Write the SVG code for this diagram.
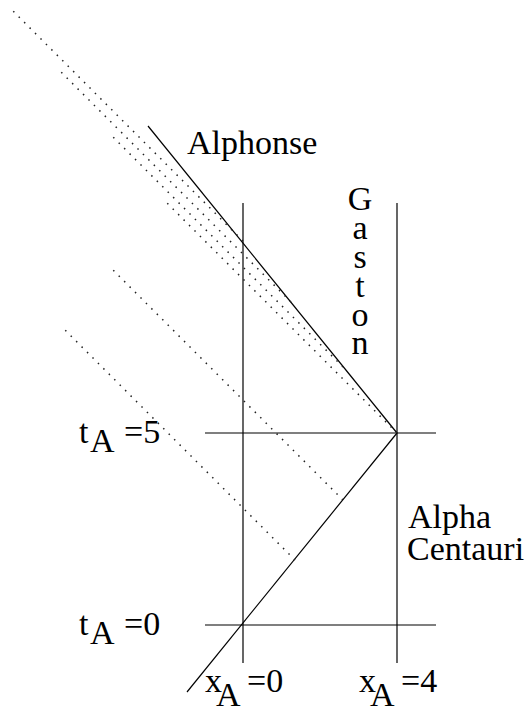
<svg xmlns="http://www.w3.org/2000/svg" width="525" height="713" viewBox="0 0 525 713">
<style>
.s{stroke:#000;stroke-width:1.2;fill:none}
.d{stroke:#222;stroke-width:1.5;fill:none;stroke-dasharray:1.5 6.2}
.t{font-family:'Liberation Serif','Times New Roman',serif;font-size:34px;fill:#000}
</style>
<rect width="525" height="713" fill="#fff"/>
<g id="connectors">
<line class="s" x1="243" y1="203" x2="243" y2="663"/>
<line class="s" x1="397" y1="203" x2="397" y2="663"/>
<line class="s" x1="205" y1="433" x2="436" y2="433"/>
<line class="s" x1="205" y1="625" x2="436" y2="625"/>
<line class="s" x1="397" y1="433" x2="148" y2="126"/>
<line class="s" x1="397" y1="433" x2="187" y2="692"/>
<line class="d" x1="243" y1="241" x2="13" y2="11"/>
<line class="d" x1="291" y1="302" x2="61" y2="72"/>
<line class="d" x1="343" y1="367" x2="113" y2="137"/>
<line class="d" x1="397" y1="433" x2="167" y2="203"/>
<line class="d" x1="343" y1="500" x2="113" y2="270"/>
<line class="d" x1="295" y1="560" x2="65" y2="330"/>
</g>
<g id="alphonse"><text class="t" x="187" y="154">Alphonse</text></g>
<g id="gaston"><text class="t" text-anchor="middle"><tspan x="360" y="210">G</tspan><tspan x="360" y="239">a</tspan><tspan x="360" y="268">s</tspan><tspan x="360" y="297">t</tspan><tspan x="360" y="326">o</tspan><tspan x="360" y="354">n</tspan></text></g>
<g id="alpha-centauri"><text class="t"><tspan x="408" y="528">Alpha</tspan><tspan x="407" y="560">Centauri</tspan></text></g>
<g id="tA5"><text class="t"><tspan x="79" y="443">t</tspan><tspan x="90" y="452">A</tspan><tspan x="124" y="443">=5</tspan></text></g>
<g id="tA0"><text class="t"><tspan x="79" y="635">t</tspan><tspan x="90" y="644">A</tspan><tspan x="124" y="635">=0</tspan></text></g>
<g id="xA0"><text class="t"><tspan x="205" y="692">x</tspan><tspan x="216" y="706">A</tspan><tspan x="247" y="692">=0</tspan></text></g>
<g id="xA4"><text class="t"><tspan x="359" y="692">x</tspan><tspan x="370" y="706">A</tspan><tspan x="401" y="692">=4</tspan></text></g>
</svg>
